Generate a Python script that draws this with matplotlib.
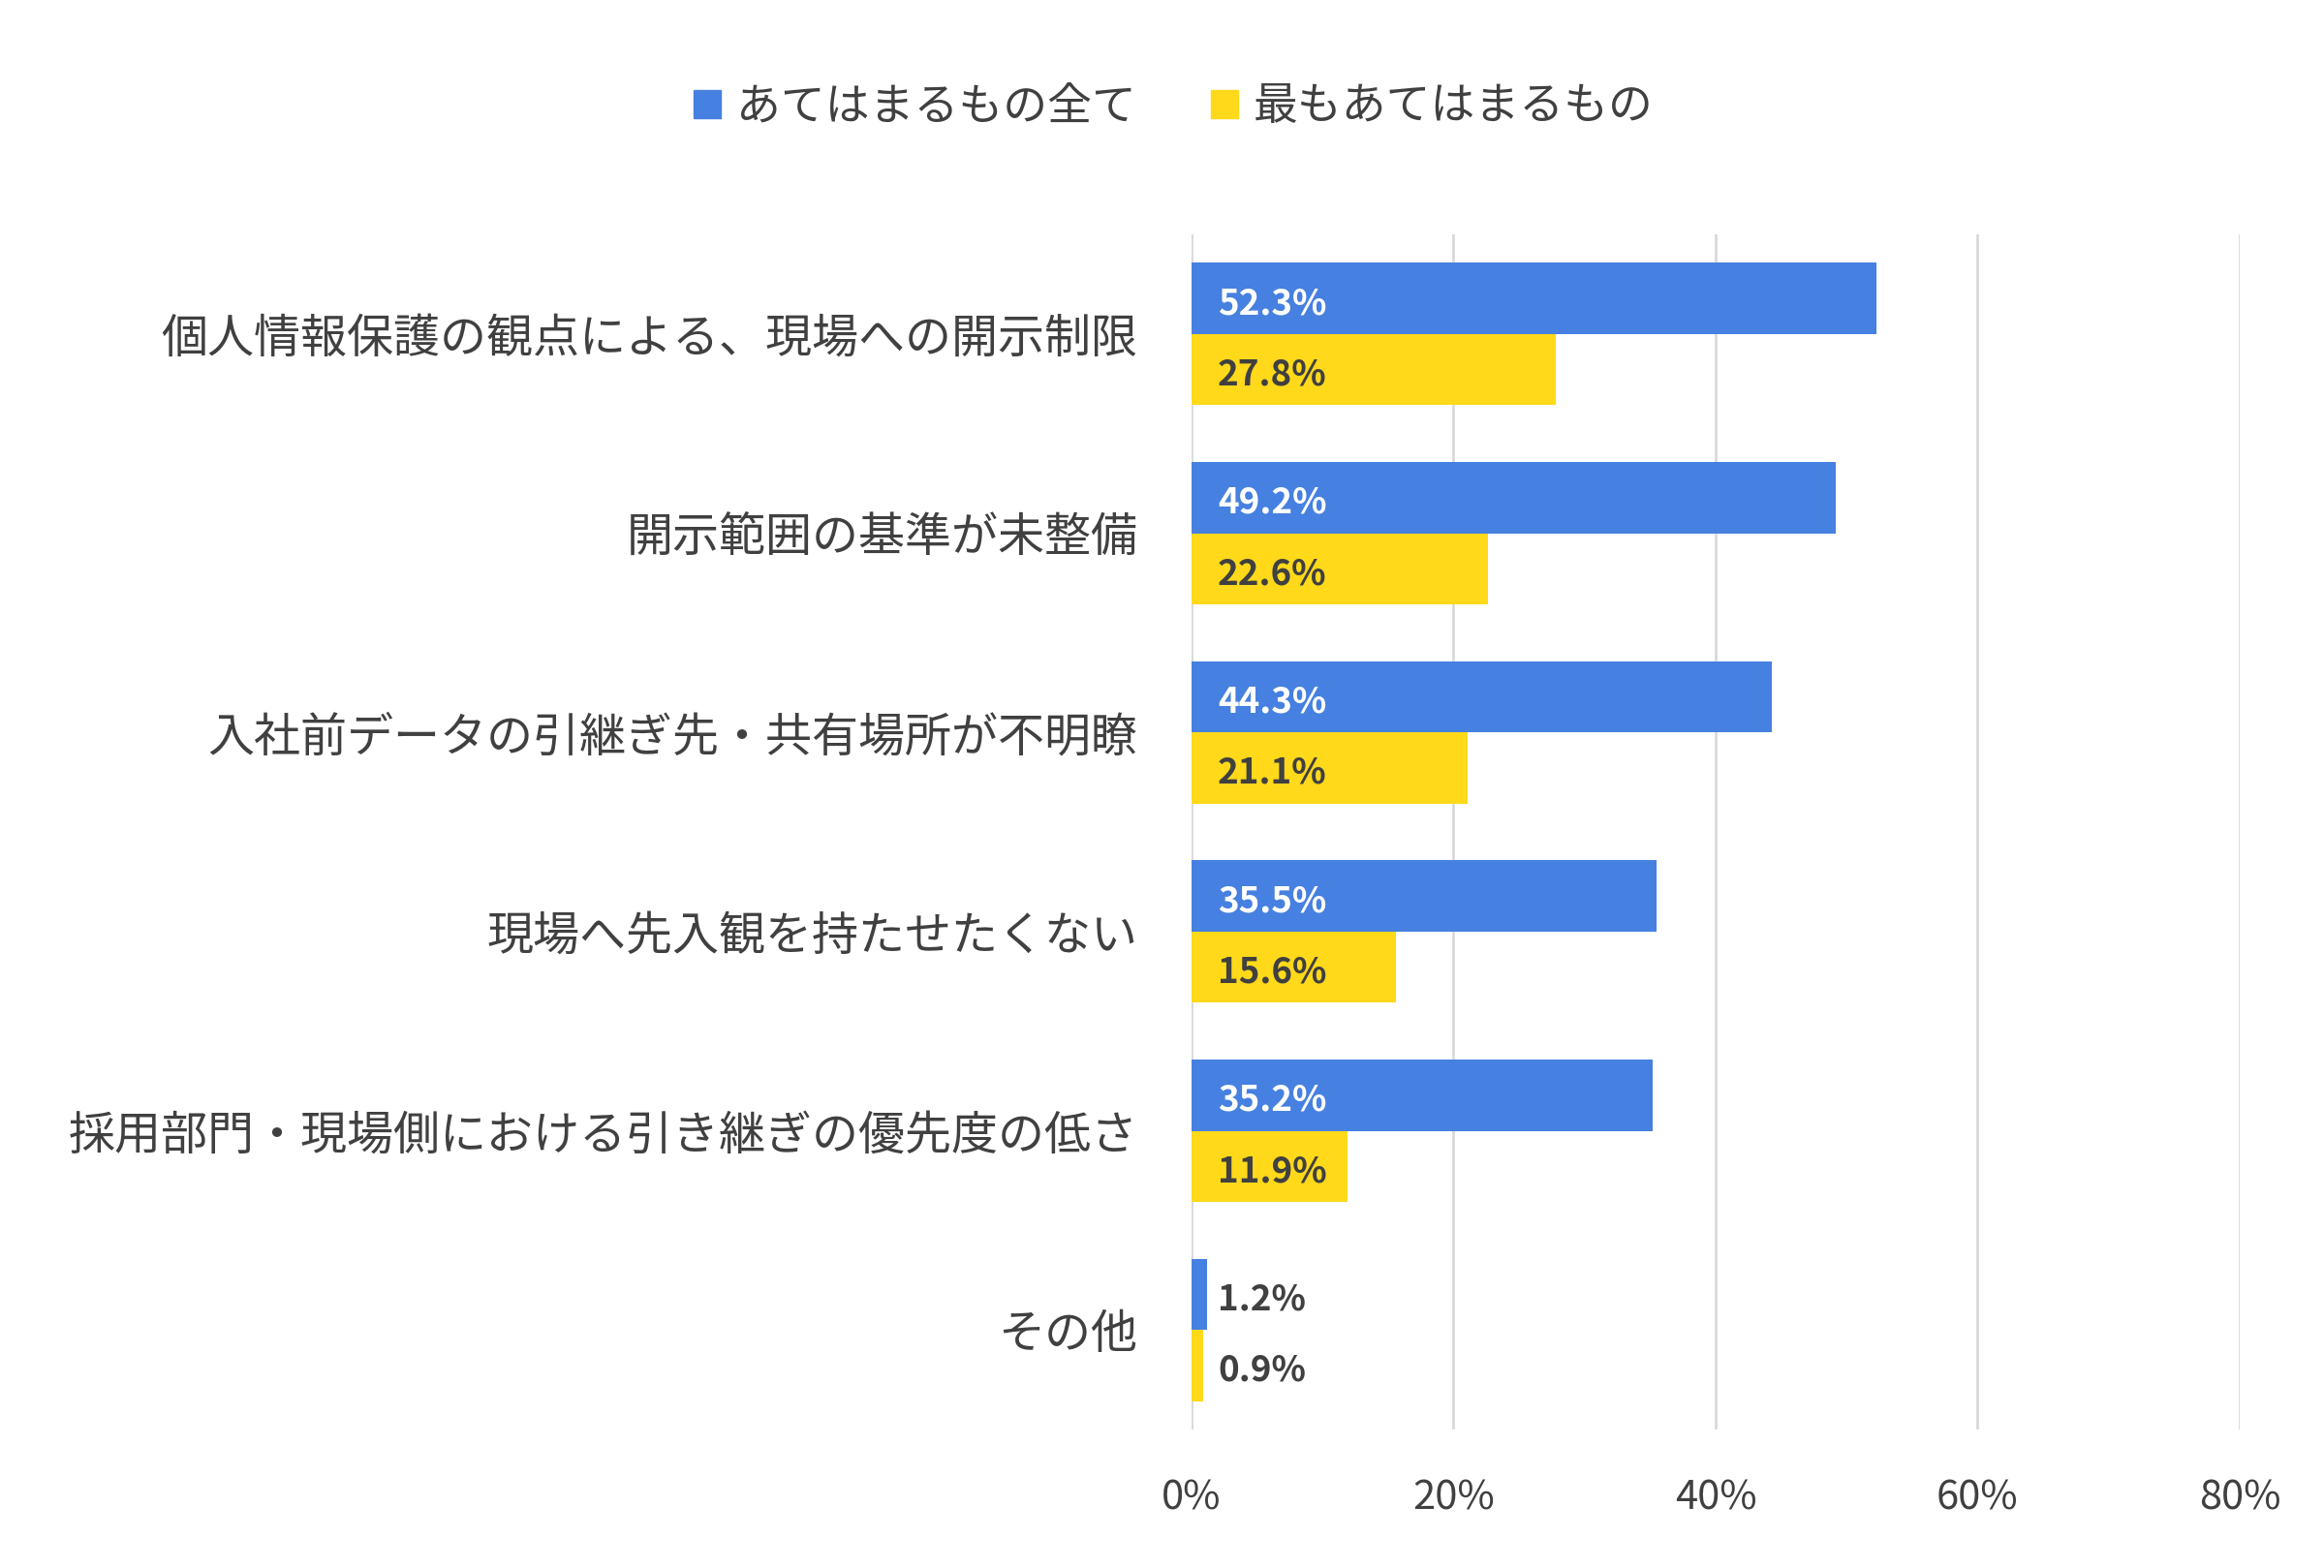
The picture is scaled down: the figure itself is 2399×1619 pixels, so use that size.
import numpy as np
import matplotlib.pyplot as plt
from matplotlib.patches import Patch

plt.rcParams['font.family'] = ['Noto Sans CJK JP', 'DejaVu Sans']

# data
categories = ["個人情報保護の観点による、現場への開示制限",
              "開示範囲の基準が未整備",
              "入社前データの引継ぎ先・共有場所が不明瞭",
              "現場へ先入観を持たせたくない",
              "採用部門・現場側における引き継ぎの優先度の低さ",
              "その他"]
all_apply = [52.3, 49.2, 44.3, 35.5, 35.2, 1.2]
most_apply = [27.8, 22.6, 21.1, 15.6, 11.9, 0.9]
series_names = ["あてはまるもの全て", "最もあてはまるもの"]
xticks = [0, 20, 40, 60, 80]

blue = "#4680E0"
yellow = "#FFD91A"
txt = "#404040"

fig = plt.figure(figsize=(23.99, 16.19), dpi=100)
ax = fig.add_axes([0.5127, 0.0883, 0.451, 0.7622])

y = np.arange(len(categories))
h = 0.357
ax.barh(y - h / 2, all_apply, height=h, color=blue, zorder=3)
ax.barh(y + h / 2, most_apply, height=h, color=yellow, zorder=3)

# value labels, all start near the axis
for i in range(len(categories)):
    for val, off, col in [(all_apply[i], -h / 2, "white"), (most_apply[i], h / 2, txt)]:
        if val < 8:
            col = txt
        ax.annotate(f"{val}%", xy=(0, i + off), xytext=(19.5, -4), textcoords="offset points",
                    ha="left", va="center", fontsize=26.5, fontweight="bold", color=col, zorder=4)

ax.set_xlim(0, 80)
ax.set_ylim(len(categories) - 0.5, -0.5)
ax.set_xticks(xticks)
ax.set_xticklabels([f"{t}%" for t in xticks], fontsize=30, color=txt)
ax.set_yticks(y)
ax.set_yticklabels(categories, fontsize=34.6, color=txt)
ax.tick_params(axis="x", length=0, pad=36)
ax.tick_params(axis="y", length=0, pad=40)
ax.grid(axis="x", color="#D9D9D9", linewidth=2, zorder=0)
for s in ax.spines.values():
    s.set_visible(False)

handles = [Patch(color=blue), Patch(color=yellow)]
fig.legend(handles, series_names, loc="center", bbox_to_anchor=(0.505, 0.932), ncol=2,
           frameon=False, fontsize=33, handlelength=0.6, handleheight=0.6,
           handletextpad=0.35, columnspacing=1.7, labelcolor=txt)

fig.savefig("out.png", dpi=100)
